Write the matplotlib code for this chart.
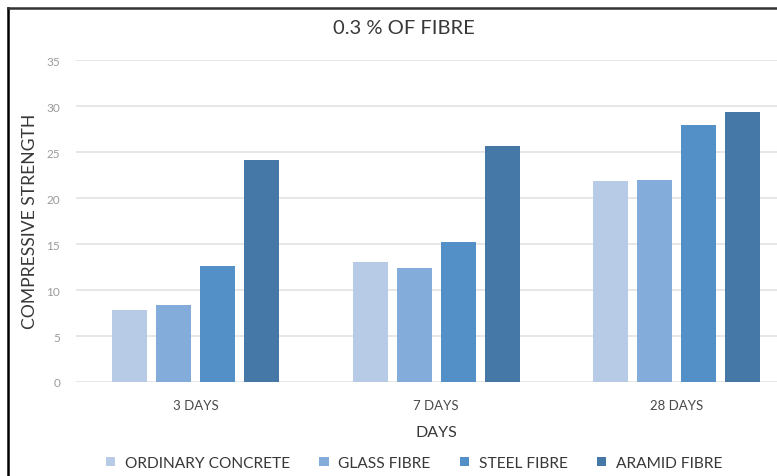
import matplotlib.pyplot as plt
import numpy as np
from matplotlib.lines import Line2D
from matplotlib.patches import Patch

plt.rcParams["font.family"] = ["Lato", "DejaVu Sans"]

categories = ["3 DAYS", "7 DAYS", "28 DAYS"]
series_names = ["ORDINARY CONCRETE", "GLASS FIBRE", "STEEL FIBRE", "ARAMID FIBRE"]
ordinary = [7.8, 13.0, 21.8]
glass = [8.4, 12.4, 22.0]
steel = [12.6, 15.2, 27.9]
aramid = [24.1, 25.6, 29.3]
colors = ["#B7CBE7", "#84ACDA", "#5390C8", "#4577A7"]

W, H = 777, 477
fig = plt.figure(figsize=(W / 100, H / 100), dpi=100)
cat_px = 240.5
ax = fig.add_axes([75.5 / W, (H - 383) / H, 3 * cat_px / W, 322 / H])

x = np.arange(len(categories))
bar_w = 35 / cat_px
step = 44 / cat_px
for i, (vals, name) in enumerate(zip([ordinary, glass, steel, aramid], series_names)):
    ax.bar(x + (i - 1.5) * step, vals, width=bar_w, color=colors[i], label=name, zorder=3)

ax.set_xlim(-0.5, 2.5)
ax.set_ylim(0, 35)
ax.set_yticks(range(0, 36, 5))
ax.yaxis.grid(True, color="#E3E3E3", linewidth=1.2, zorder=0)
ax.set_axisbelow(True)
for s in ax.spines.values():
    s.set_visible(False)
ax.tick_params(axis="both", length=0)
ax.tick_params(axis="y", labelsize=8.5, labelcolor="#9A9A9A", pad=11)
ax.set_xticks(x)
ax.set_xticklabels(categories, fontsize=9.5, color="#4A4A4A")
ax.tick_params(axis="x", pad=12)

fig.text(404 / W, 1 - 28 / H, "0.3 % OF FIBRE", ha="center", va="center", fontsize=14.5, color="#383838")
fig.text(30 / W, 1 - 221 / H, "COMPRESSIVE STRENGTH", ha="center", va="center", rotation=90,
         fontsize=12.6, color="#383838")
fig.text(436 / W, 1 - 433 / H, "DAYS", ha="center", va="center", fontsize=11.5, color="#383838")

handles = [Patch(facecolor=c, edgecolor="none") for c in colors]
fig.legend(handles, series_names, loc="center", bbox_to_anchor=(414 / W, 1 - 464 / H), ncol=4,
           frameon=False, fontsize=11.2, handlelength=0.6, handleheight=0.6, handletextpad=0.6,
           columnspacing=1.9, labelcolor="#383838", borderpad=0, borderaxespad=0)

# outer frame (left and top edges of the cropped chart border)
fig.add_artist(Line2D([8 / W, 8 / W], [0, 1 - 9 / H], color="black", linewidth=1.8))
fig.add_artist(Line2D([8 / W, 1], [1 - 9 / H, 1 - 9 / H], color="#333333", linewidth=1.8))

fig.savefig("out.png", dpi=100)
